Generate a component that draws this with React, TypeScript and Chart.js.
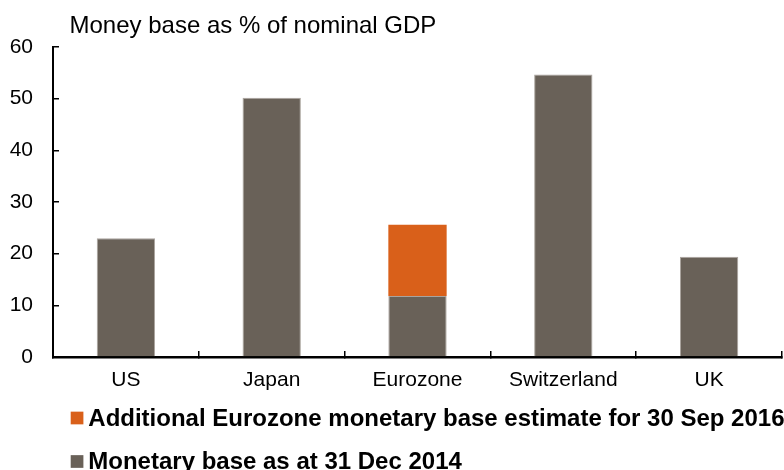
import React, { useEffect, useRef } from "react";
import { Chart, registerables } from "chart.js";

Chart.register(...registerables);

const categories = ["US", "Japan", "Eurozone", "Switzerland", "UK"];
const baseValues = [23.0, 50.2, 11.8, 54.7, 19.4];
const additionalValues: (number | null)[] = [null, null, 13.8, null, null];
const yMin = 0;
const yMax = 60;
const yStep = 10;
const titleText = "Money base as % of nominal GDP";
const baseLabel = "Monetary base as at 31 Dec 2014";
const additionalLabel = "Additional Eurozone monetary base estimate for 30 Sep 2016";

const GREY = "#696158";
const ORANGE = "#D9601A";
const FONT = "'Liberation Sans', Arial, sans-serif";

const titlePlugin = {
  id: "customTitle",
  afterDraw(chart: any) {
    const { ctx, chartArea } = chart;
    ctx.save();
    ctx.font = `24px ${FONT}`;
    ctx.fillStyle = "#000";
    ctx.textAlign = "left";
    ctx.textBaseline = "alphabetic";
    ctx.fillText(titleText, chartArea.left + 16.5, chartArea.top - 13.7);
    ctx.restore();
  },
};

const legendPlugin = {
  id: "customLegend",
  afterDraw(chart: any) {
    const { ctx, chartArea } = chart;
    const datasets = chart.data.datasets.slice().reverse();
    ctx.save();
    ctx.font = `bold 24px ${FONT}`;
    ctx.textAlign = "left";
    ctx.textBaseline = "middle";
    datasets.forEach((ds: any, i: number) => {
      const cy = chartArea.bottom + 61 + i * 43.5;
      const bx = chartArea.left + 17.7;
      const size = 12.7;
      ctx.fillStyle = ds.backgroundColor;
      ctx.fillRect(bx, cy - size / 2, size, size);
      ctx.fillStyle = "#000";
      ctx.fillText(ds.label, bx + 17.6, cy + 1);
    });
    ctx.restore();
  },
};

export default function App() {
  const ref = useRef<HTMLCanvasElement | null>(null);

  useEffect(() => {
    if (!ref.current) return;
    Chart.defaults.color = "#000";
    Chart.defaults.font.family = FONT;
    const chart = new Chart(ref.current, {
      type: "bar",
      data: {
        labels: categories,
        datasets: [
          {
            label: baseLabel,
            data: baseValues,
            backgroundColor: GREY,
            borderColor: "#aaa49e",
            borderWidth: { left: 1, right: 1, top: 1, bottom: 0 },
            borderSkipped: "bottom",
            categoryPercentage: 1,
            barPercentage: 0.4,
          },
          {
            label: additionalLabel,
            data: additionalValues,
            backgroundColor: ORANGE,
            borderWidth: 0,
            categoryPercentage: 1,
            barPercentage: 0.4,
          },
        ],
      },
      options: {
        animation: false,
        responsive: true,
        maintainAspectRatio: false,
        layout: { padding: { top: 47, right: 2, bottom: 0, left: 0 } },
        plugins: {
          legend: { display: false },
          title: { display: false },
          tooltip: { enabled: false },
        },
        scales: {
          x: {
            stacked: true,
            afterFit: (scale: any) => {
              scale.height = 113;
            },
            grid: {
              display: true,
              offset: true,
              drawOnChartArea: false,
              drawTicks: true,
              tickLength: -6,
              color: "#000",
              lineWidth: 1.5,
            },
            border: { display: true, color: "#000", width: 2.5 },
            ticks: {
              font: { size: 21, family: FONT },
              color: "#000",
              padding: 17,
              maxRotation: 0,
              autoSkip: false,
            },
          },
          y: {
            stacked: true,
            min: yMin,
            max: yMax,
            afterFit: (scale: any) => {
              scale.width = 53;
            },
            grid: {
              display: true,
              drawOnChartArea: false,
              drawTicks: true,
              tickLength: -6,
              color: "#000",
              lineWidth: 1.5,
            },
            border: { display: true, color: "#000", width: 2 },
            ticks: {
              stepSize: yStep,
              font: { size: 21, family: FONT },
              color: "#000",
              padding: 26,
            },
          },
        },
      },
      plugins: [titlePlugin, legendPlugin],
    });
    return () => chart.destroy();
  }, []);

  return (
    <div style={{ position: "fixed", left: 0, top: 0, width: 784, height: 470, background: "#fff" }}>
      <canvas ref={ref} />
    </div>
  );
}
